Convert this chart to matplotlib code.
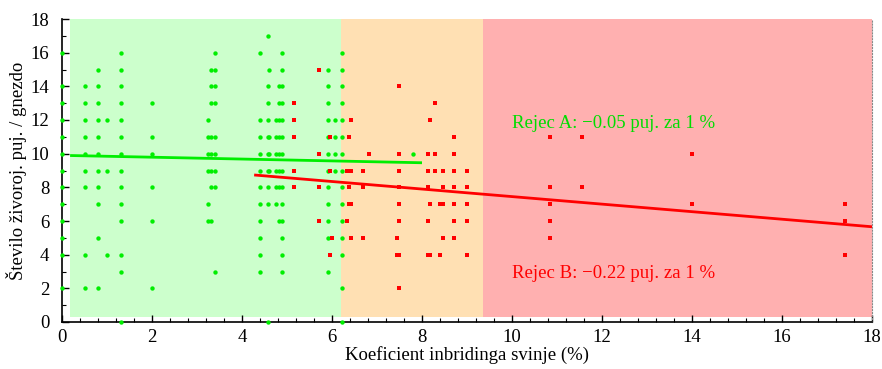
import matplotlib
matplotlib.use("Agg")
import matplotlib.pyplot as plt
import numpy as np
from matplotlib.ticker import MultipleLocator

plt.rcParams['font.family'] = ['Liberation Serif', 'DejaVu Serif']

# ---- data: group A (green), x -> list of y
green_cols = {
    0.0: [16, 14, 13, 12, 11, 10, 9, 8, 7, 6, 5, 4, 2],
    0.5: [14, 13, 12, 11, 10, 9, 8, 4, 2],
    0.8: [15, 14, 13, 12, 11, 10, 9, 8, 7, 5, 2],
    1.0: [12, 9, 4],
    1.3: [16, 15, 14, 13, 12, 11, 10, 9, 8, 7, 6, 4, 3, 0],
    2.0: [13, 11, 10, 8, 6, 2],
    3.24: [12, 11, 10, 9, 7, 6],
    3.3: [15, 14, 13, 11, 10, 9, 8, 6],
    3.4: [16, 15, 14, 13, 11, 10, 9, 8, 3],
    4.41: [16, 12, 11, 10, 9, 8, 7, 6, 5, 4, 3],
    4.57: [17, 14, 13, 12, 11, 10, 9, 8, 7, 0],
    4.61: [15, 11, 10, 9],
    4.76: [12, 11, 10, 9, 8, 7],
    4.82: [14, 13, 12, 11, 10, 9, 8, 6],
    4.88: [16, 15, 14, 13, 12, 11, 10, 9, 8, 7, 6, 5, 4, 3],
    5.92: [15, 14, 13, 12, 11, 10, 9, 8, 7, 6, 5, 3],
    6.07: [12, 11, 10, 9],
    6.23: [16, 15, 14, 13, 12, 11, 10, 9, 8, 7, 6, 5, 4, 2, 0],
    7.79: [10],
}
# ---- data: group B (red), x -> list of y
red_cols = {
    5.15: [13, 12, 11, 9, 8],
    5.71: [15, 10, 8, 6],
    5.96: [11, 9, 4],
    5.99: [5],
    6.33: [9, 6],
    6.38: [11, 8, 7],
    6.42: [12, 9, 7, 5],
    6.69: [9, 8, 5],
    6.82: [10],
    7.44: [5, 4],
    7.49: [14, 10, 9, 8, 7, 6, 4, 2],
    8.13: [10, 9, 8, 6, 4],
    8.18: [12, 7, 4],
    8.29: [13, 10, 9],
    8.40: [7, 4],
    8.47: [9, 8, 7, 5],
    8.71: [11, 10, 9, 8, 7, 6, 5],
    9.00: [9, 8, 7, 6, 4],
    10.84: [11, 8, 7, 6, 5],
    11.56: [11, 8],
    14.0: [10, 7],
    17.4: [7, 6, 4],
}

# regression fits (intercept, slope, x-range)
fit_a = (9.90, -0.055, 0.18, 8.0)
fit_b = (9.69, -0.224, 4.27, 18.0)

x_ticks = [0, 2, 4, 6, 8, 10, 12, 14, 16, 18]
y_ticks = [0, 2, 4, 6, 8, 10, 12, 14, 16, 18]

label_a = "Rejec A: \u22120.05 puj. za 1 %"
label_b = "Rejec B: \u22120.22 puj. za 1 %"

def expand(cols):
    xs, ys = [], []
    for x, yl in cols.items():
        for y in yl:
            xs.append(x)
            ys.append(y)
    return np.array(xs), np.array(ys)

gx, gy = expand(green_cols)
rx, ry = expand(red_cols)

fig = plt.figure(figsize=(8.82, 3.69), dpi=100)
ax = fig.add_axes([62/882, 1-322/369, 810/882, 303/369])

# background zones
zones = [(0.18, 6.21, '#ccffcc'), (6.21, 9.36, '#ffe0b3'), (9.36, 18.0, '#ffb0b0')]
for x0, x1, c in zones:
    ax.fill_between([x0, x1], 0.3, 18, color=c, lw=0, zorder=0)

ax.scatter(gx, gy, s=10, marker='o', color='#00ee00', lw=0, zorder=3, clip_on=False)
ax.scatter(rx, ry, s=8, marker='s', color='#ff0000', lw=0, zorder=4, clip_on=False)

for (b0, b1, xa, xb), col in [(fit_a, '#00ee00'), (fit_b, '#ff0000')]:
    xx = np.array([xa, xb])
    ax.plot(xx, b0 + b1 * xx, color=col, lw=2, zorder=5, solid_capstyle='butt')

ax.text(10.0, 11.8, label_a, color='#00dd00', fontsize=13.5, va='center', ha='left', zorder=6)
ax.text(10.0, 2.9, label_b, color='#ff0000', fontsize=13.5, va='center', ha='left', zorder=6)

ax.set_xlim(0, 18)
ax.set_ylim(0, 18)
ax.set_xticks(x_ticks)
ax.set_yticks(y_ticks)
ax.xaxis.set_minor_locator(MultipleLocator(0.4))
ax.yaxis.set_minor_locator(MultipleLocator(1))
ax.tick_params(axis='both', which='both', direction='in', labelsize=13.5, colors='black')
ax.tick_params(axis='both', which='major', length=5, width=1)
ax.tick_params(axis='both', which='minor', length=3, width=0.8)
ax.tick_params(axis='x', pad=5)
ax.tick_params(axis='y', pad=9)

ax.spines['top'].set_visible(False)
ax.spines['right'].set_color('#888888')
ax.spines['right'].set_linestyle(':')
ax.spines['right'].set_linewidth(0.8)
ax.spines['left'].set_linewidth(1.2)
ax.spines['bottom'].set_linewidth(1.2)
ax.set_facecolor('white')

ax.set_xlabel("Koeficient inbridinga svinje (%)", fontsize=13.5, labelpad=0)
ax.set_ylabel("Število živoroj. puj. / gnezdo", fontsize=13.5, labelpad=3)

fig.savefig("out.png", dpi=100)
